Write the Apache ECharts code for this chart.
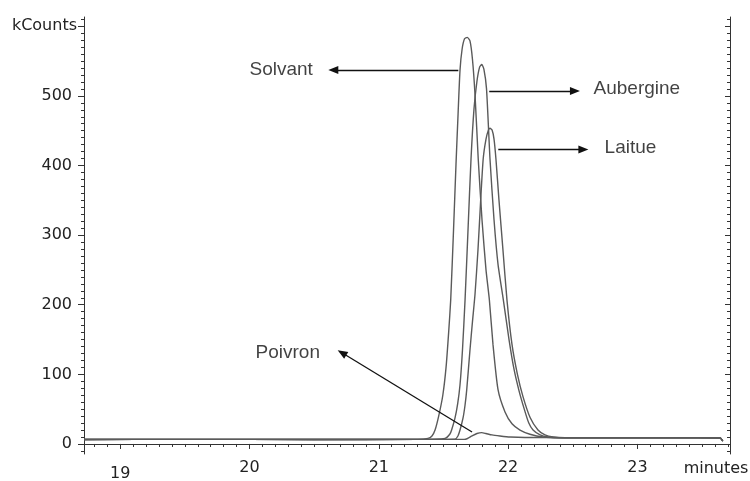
<!DOCTYPE html>
<html><head><meta charset="utf-8">
<script src="https://cdn.jsdelivr.net/npm/echarts@6/dist/echarts.min.js"></script>
<style>html,body{margin:0;padding:0;background:#fff}#c{width:750px;height:481px}</style>
</head><body><div id="c"></div>
<script>
// ---- tick labels ----
const xTickLabels = [19, 20, 21, 22, 23];
const yTickLabels = [0, 100, 200, 300, 400, 500];
const yUnitLabel = 'kCounts';
const xUnitLabel = 'minutes';

// ---- series values: [minutes, kCounts] ----
const baselineLeft = [[18.72, 6.5], [19.5, 6.6], [20.5, 6.5], [21.3, 6.6]];
const baselineRight = [[22.5, 9], [22.9, 9], [23.3, 8.8], [23.64, 8.6], [23.66, 4]];

const solvantPeak = [
  [21.38, 8], [21.411, 11.5], [21.435, 20], [21.463, 40], [21.495, 70], [21.52, 110],
  [21.54, 160], [21.556, 207], [21.578, 308], [21.597, 402], [21.613, 474], [21.628, 537],
  [21.644, 567], [21.663, 582], [21.684, 584], [21.705, 579], [21.724, 553], [21.744, 502],
  [21.769, 409], [21.798, 322], [21.829, 250], [21.855, 207], [21.883, 143], [21.922, 78],
  [21.976, 46], [22.03, 29], [22.092, 20], [22.169, 14], [22.27, 10], [22.4, 9]
];
const auberginePeak = [
  [21.512, 8], [21.55, 14.4], [21.563, 20], [21.589, 37], [21.61, 58], [21.628, 85],
  [21.647, 135], [21.667, 207], [21.69, 308], [21.713, 409], [21.736, 481], [21.759, 521],
  [21.779, 541], [21.796, 545], [21.813, 538], [21.833, 510], [21.86, 409], [21.891, 322],
  [21.922, 258], [21.963, 207], [22.007, 150], [22.046, 107], [22.085, 76], [22.125, 50],
  [22.16, 30], [22.193, 20], [22.247, 13], [22.309, 10], [22.4, 9]
];
const laituePeak = [
  [21.589, 7], [21.612, 11.5], [21.628, 20], [21.651, 37], [21.667, 56], [21.68, 78],
  [21.705, 135], [21.724, 175], [21.744, 215], [21.767, 279], [21.786, 344], [21.807, 409],
  [21.829, 438], [21.848, 451], [21.86, 453.5], [21.876, 451], [21.891, 438], [21.906, 409],
  [21.929, 351], [21.96, 279], [21.991, 207], [22.03, 143], [22.072, 100], [22.115, 68],
  [22.17, 38], [22.231, 20], [22.285, 13], [22.347, 10], [22.44, 9]
];
const poivronPeak = [
  [21.66, 6.6], [21.682, 7.5], [21.721, 11.5], [21.759, 15], [21.796, 16.3], [21.829, 15],
  [21.875, 13], [21.937, 11.5], [22.015, 10], [22.13, 9.3], [22.285, 9.3]
];

// ---- annotations: [minutes, kCounts] ----
const arrowSolvant = [[21.615, 537], [20.648, 537]];
const arrowAubergine = [[21.854, 507], [22.517, 507]];
const arrowLaitue = [[21.924, 423], [22.582, 423]];
const arrowPoivron = [[21.721, 17.3], [20.715, 131]];
const labelNames = ['Solvant', 'Aubergine', 'Laitue', 'Poivron'];
const labelAnchors = [[19.996, 538], [22.657, 510], [22.742, 426], [20.043, 131]];
const xUnitAt = 23.608;

// ---- axis extents ----
const xMin = 18.72, xMax = 23.716, yMin = -14.4, yMax = 613.3;

const xMinorTicks = [];
for (let i = 188; i <= 237; i++) xMinorTicks.push(i / 10);
const yMinorTicks = [];
for (let v = -10; v <= 610; v += 10) yMinorTicks.push(v);

const full = (peak) => baselineLeft.concat(peak, baselineRight);

const axisColor = '#333';
const numFont = { fontFamily: 'DejaVu Sans', fontSize: 16, color: '#222' };

const lineSeries = (name, peak) => ({
  name, type: 'line', data: full(peak), xAxisIndex: 0, yAxisIndex: 0,
  showSymbol: false, symbol: 'none', smooth: 0.2,
  lineStyle: { color: '#5a5a5a', width: 1.4 }, silent: true, z: 3
});

const arrowItem = (a) => [
  { coord: a[0], symbol: 'none' },
  { coord: a[1], symbol: 'triangle', symbolSize: [8, 10] }
];

const chart = echarts.init(document.getElementById('c'), null, { renderer: 'canvas' });
chart.setOption({
  animation: false,
  backgroundColor: '#fff',
  grid: { left: 84, right: 20, top: 17, bottom: 27, containLabel: false, outerBoundsMode: 'none' },
  xAxis: [
    { type: 'value', min: xMin, max: xMax, position: 'bottom',
      axisLine: { show: true, lineStyle: { color: axisColor, width: 1 } },
      axisTick: { show: true, customValues: xMinorTicks, length: 3, lineStyle: { color: axisColor } },
      axisLabel: { show: false }, splitLine: { show: false } },
    { type: 'value', min: xMin, max: xMax, position: 'bottom',
      axisLine: { show: false },
      axisTick: { show: true, customValues: xTickLabels, length: 5, lineStyle: { color: axisColor } },
      axisLabel: { show: true, customValues: xTickLabels, margin: 6, ...numFont,
        formatter: (v) => v === 19 ? '{low|19}' : String(v),
        rich: { low: { ...numFont, padding: [6, 0, 0, 0] } } },
      splitLine: { show: false } },
    { type: 'value', min: xMin, max: xMax, position: 'bottom',
      axisLine: { show: false }, axisTick: { show: false },
      axisLabel: { show: true, customValues: [xUnitAt], margin: 7, ...numFont, formatter: () => xUnitLabel },
      splitLine: { show: false } }
  ],
  yAxis: [
    { type: 'value', min: yMin, max: yMax, position: 'left',
      axisLine: { show: true, lineStyle: { color: axisColor } },
      axisTick: { show: true, customValues: yMinorTicks, length: 3, lineStyle: { color: axisColor } },
      axisLabel: { show: false }, splitLine: { show: false } },
    { type: 'value', min: yMin, max: yMax, position: 'left',
      axisLine: { show: false },
      axisTick: { show: true, customValues: yTickLabels.concat([600]), length: 6, lineStyle: { color: axisColor } },
      axisLabel: { show: true, customValues: yTickLabels, margin: 12, ...numFont },
      splitLine: { show: false } },
    { type: 'value', min: yMin, max: yMax, position: 'left',
      axisLine: { show: false }, axisTick: { show: false },
      axisLabel: { show: true, customValues: [600], margin: 7, ...numFont, formatter: () => yUnitLabel },
      splitLine: { show: false } },
    { type: 'value', min: yMin, max: yMax, position: 'right',
      axisLine: { show: true, lineStyle: { color: axisColor } },
      axisTick: { show: true, inside: true, customValues: yMinorTicks, length: 3, lineStyle: { color: axisColor } },
      axisLabel: { show: false }, splitLine: { show: false } },
    { type: 'value', min: yMin, max: yMax, position: 'right',
      axisLine: { show: false },
      axisTick: { show: true, inside: true, customValues: yTickLabels.concat([600]), length: 5, lineStyle: { color: axisColor } },
      axisLabel: { show: false }, splitLine: { show: false } }
  ],
  series: [
    lineSeries('Solvant', solvantPeak),
    lineSeries('Aubergine', auberginePeak),
    lineSeries('Laitue', laituePeak),
    Object.assign(lineSeries('Poivron', poivronPeak), {
      markLine: {
        silent: true, animation: false,
        label: { show: false },
        lineStyle: { color: '#111', width: 1.3, type: 'solid' },
        emphasis: { disabled: true },
        data: [arrowItem(arrowSolvant), arrowItem(arrowAubergine), arrowItem(arrowLaitue), arrowItem(arrowPoivron)]
      }
    }),
    { type: 'scatter', xAxisIndex: 0, yAxisIndex: 0, silent: true, z: 5,
      symbolSize: 1, itemStyle: { color: 'rgba(0,0,0,0)' },
      data: labelNames.map((n, i) => ({ name: n, value: labelAnchors[i] })),
      label: { show: true, position: 'right', distance: 0, formatter: '{b}',
        fontFamily: 'Liberation Sans, Arial, sans-serif', fontSize: 19, color: '#111' } }
  ]
});
</script>
</body></html>
